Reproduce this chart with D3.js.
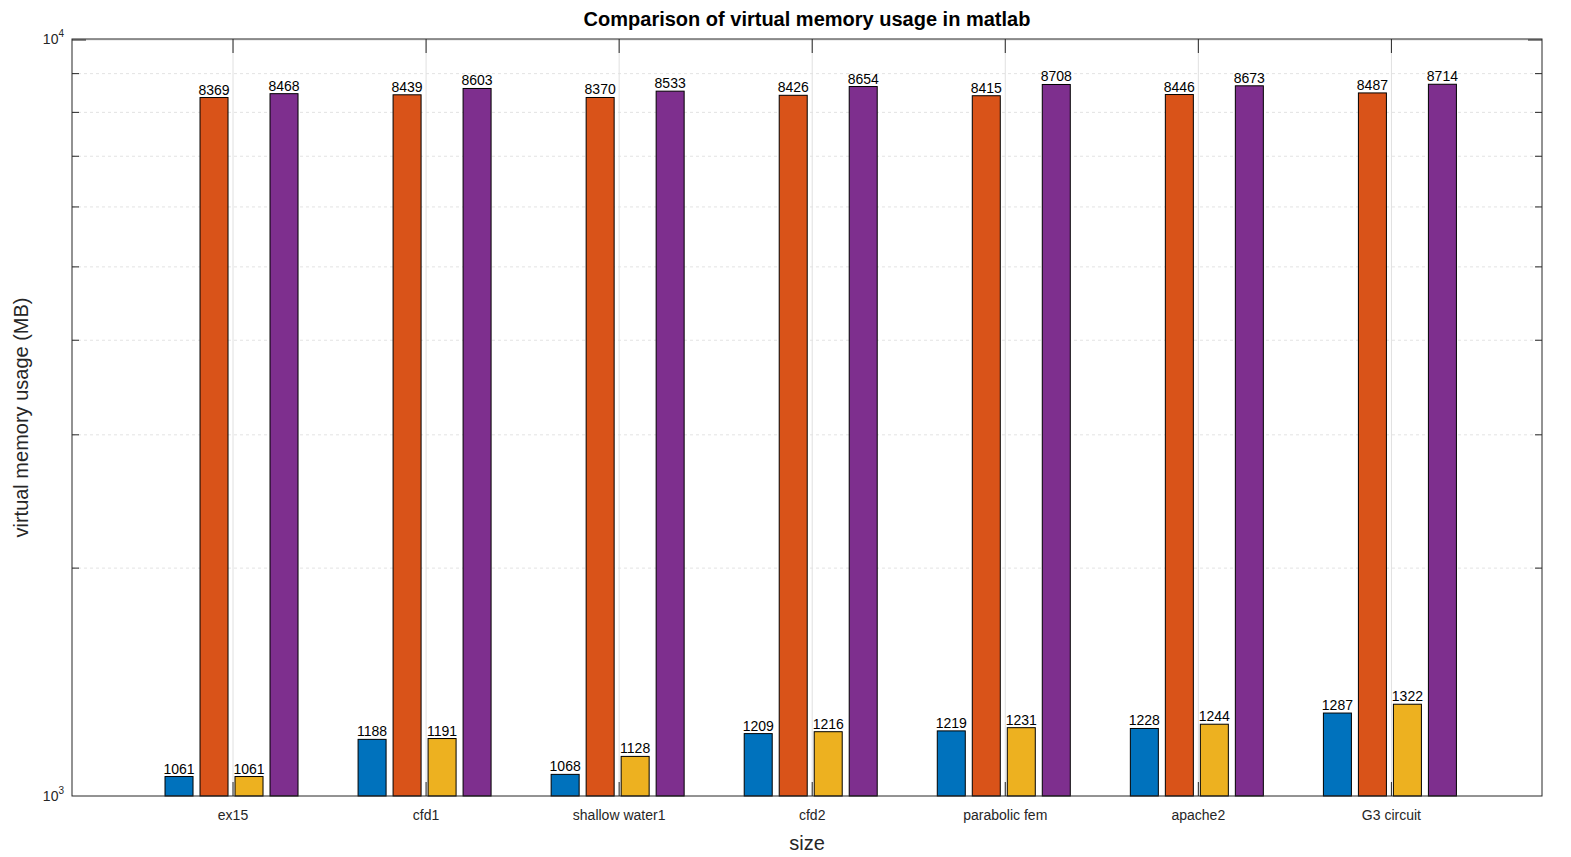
<!DOCTYPE html><html><head><script src="https://cdn.jsdelivr.net/npm/d3@7"></script>
<style>body{margin:0;background:#fff}text{font-family:Arial,"Liberation Sans",sans-serif}</style></head><body>
<svg id="c" width="1571" height="857"></svg>
<script>
const categories=["ex15","cfd1","shallow water1","cfd2","parabolic fem","apache2","G3 circuit"];
const s1=[1061,1188,1068,1209,1219,1228,1287];
const s2=[8369,8439,8370,8426,8415,8446,8487];
const s3=[1061,1191,1128,1216,1231,1244,1322];
const s4=[8468,8603,8533,8654,8708,8673,8714];
const series=[s1,s2,s3,s4];
const colors=["#0072BD","#D95319","#EDB120","#7E2F8E"];
const offsets=[-54,-19,16,51];
const svg=d3.select("#c");
const L=72,R=1542,T=39,B=796;
const x=d3.scaleLinear().domain([0.166,7.78]).range([L,R]);
const y=d3.scaleLog().domain([1000,10000]).range([B,T]);
const g=svg.append("g");
const minors=[2000,3000,4000,5000,6000,7000,8000,9000];
g.selectAll(".hg").data(minors).join("line").attr("x1",L).attr("x2",R).attr("y1",d=>y(d)).attr("y2",d=>y(d)).attr("stroke","#e3e3e3").attr("stroke-dasharray","3,3");
g.append("line").attr("x1",L).attr("x2",R).attr("y1",y(10000)+1).attr("y2",y(10000)+1).attr("stroke","#ddd");
g.selectAll(".vg").data(categories).join("line").attr("x1",(d,i)=>x(i+1)).attr("x2",(d,i)=>x(i+1)).attr("y1",T).attr("y2",B).attr("stroke","#e0e0e0");
// ticks
g.selectAll(".mt").data(minors).join("path").attr("d",d=>`M${L},${y(d)}h7M${R},${y(d)}h-7`).attr("stroke","#262626");
g.append("path").attr("d",`M${L},${y(10000)+1}h14M${R},${y(10000)+1}h-14`).attr("stroke","#262626");
g.selectAll(".xt").data(categories).join("path").attr("d",(d,i)=>`M${x(i+1)},${B}v-14M${x(i+1)},${T}v14`).attr("stroke","#262626");
const bw=28;
series.forEach((s,k)=>{
 g.selectAll(".b"+k).data(s).join("rect").attr("x",(d,i)=>x(i+1)+offsets[k]-bw/2).attr("width",bw)
  .attr("y",d=>y(d)).attr("height",d=>B-y(d)).attr("fill",colors[k]).attr("stroke","#000").attr("stroke-width",1);
 g.selectAll(".l"+k).data(s).join("text").attr("x",(d,i)=>x(i+1)+offsets[k]).attr("y",d=>y(d)-3)
  .attr("text-anchor","middle").attr("font-size",14).attr("fill","#000").text(d=>d);
});
svg.append("rect").attr("x",L).attr("y",T).attr("width",R-L).attr("height",B-T).attr("fill","none").attr("stroke","#262626");
svg.selectAll(".xl").data(categories).join("text").attr("x",(d,i)=>x(i+1)).attr("y",820).attr("text-anchor","middle").attr("font-size",14).attr("fill","#262626").text(d=>d);
const yl=[{v:1000,e:"3"},{v:10000,e:"4"}];
yl.forEach(t=>{const tx=svg.append("text").attr("x",L-8).attr("y",y(t.v)+5).attr("text-anchor","end").attr("font-size",14).attr("fill","#262626");
 tx.append("tspan").text("10");tx.append("tspan").attr("dy",-7).attr("font-size",10).text(t.e);});
svg.append("text").attr("x",(L+R)/2).attr("y",850).attr("text-anchor","middle").attr("font-size",20).attr("fill","#262626").text("size");
svg.append("text").attr("transform",`translate(28,${(T+B)/2}) rotate(-90)`).attr("text-anchor","middle").attr("font-size",20).attr("fill","#262626").text("virtual memory usage (MB)");
svg.append("text").attr("x",(L+R)/2).attr("y",26).attr("text-anchor","middle").attr("font-size",20).attr("font-weight","bold").attr("fill","#000").text("Comparison of virtual memory usage in matlab");
</script></body></html>
